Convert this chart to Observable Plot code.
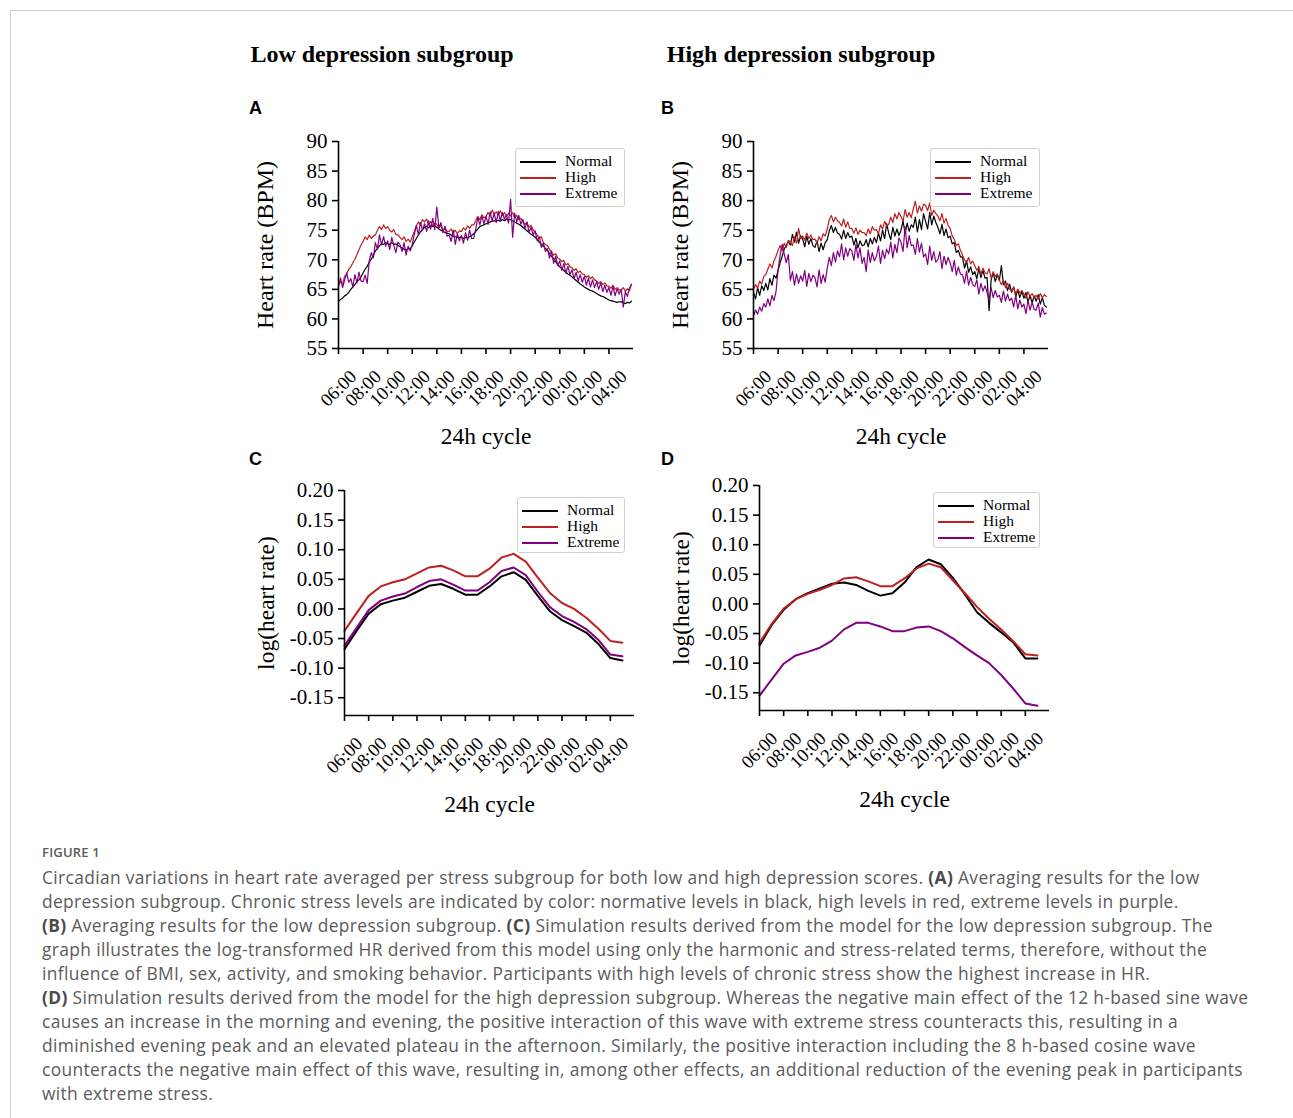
<!DOCTYPE html>
<html><head><meta charset="utf-8">
<script src="https://cdn.jsdelivr.net/npm/d3@7"></script>
<script src="https://cdn.jsdelivr.net/npm/@observablehq/plot@0.6"></script>
<style>
html,body{margin:0;padding:0;background:#fff;}
body{width:1293px;height:1118px;position:relative;overflow:hidden;font-family:"Liberation Serif",serif;}
.abs{position:absolute;}
.bt{left:10px;top:10px;width:1283px;border-top:1.5px solid #cfcfcf;}
.bl{left:10px;top:10px;height:1108px;border-left:1.5px solid #cfcfcf;}
.title{font-family:"Liberation Serif",serif;font-weight:bold;font-size:24px;color:#000;white-space:nowrap;transform:translate(-50%,-50%);}
.letter{font-family:"Liberation Sans",Arial,sans-serif;font-weight:bold;font-size:18px;color:#000;transform:translateY(-50%);}
.legend{border:1px solid #d0d0d0;border-radius:3px;background:rgba(255,255,255,0.85);box-sizing:border-box;}
.legend .row{position:absolute;left:0;height:16px;width:100%;}
.legend .sw{position:absolute;left:4px;top:7px;width:36px;height:0;border-top:2.6px solid #000;}
.legend .lb{position:absolute;left:49px;top:-2px;font-family:"Liberation Serif",serif;font-size:15.5px;line-height:18px;color:#000;white-space:nowrap;}
.cap{left:42px;font-family:"Open Sans","Noto Sans",sans-serif;color:#5b5b5b;white-space:nowrap;}
.caphead{top:843px;font-size:13px;font-weight:600;letter-spacing:0.2px;}
.capbody{top:865px;font-size:17.4px;letter-spacing:0.35px;line-height:24px;}
.capbody b{font-weight:700;color:#4a4a4a;}
svg{position:absolute;overflow:visible;}
</style></head>
<body>
<div class="abs bt"></div><div class="abs bl"></div>
<div id="root"></div>
<script>
// ---------- data ----------
const hourLabels = ["06:00","08:00","10:00","12:00","14:00","16:00","18:00","20:00","22:00","00:00","02:00","04:00"];
const seriesNames = ["Normal","High","Extreme"];
const seriesColors = ["#000000","#be2021","#800080"];
const panelTitles = ["Low depression subgroup","High depression subgroup"];
const panelLetters = ["A","B","C","D"];

// Panel A (low depression), heart rate BPM, 10-min samples from 06:00 (one row of 6 per hour)
const aNormal = [
63.0,63.3,63.5,63.9,64.1,64.5, 65.0,65.4,65.8,66.3,66.6,67.1, 67.8,68.4,68.9,69.6,70.1,70.8, 71.5,71.9,72.4,72.7,72.6,72.9,
72.7,72.6,72.9,72.6,72.7,72.4, 72.2,72.0,71.8,71.6,71.9,71.8, 72.4,73.0,73.6,74.2,74.7,75.1, 75.5,75.7,75.4,75.8,75.6,75.7,
75.5,75.2,75.0,74.8,74.6,74.5, 74.4,74.2,74.0,73.9,73.8,73.8, 73.8,73.6,73.8,73.7,73.9,74.1, 74.4,74.8,75.2,75.6,75.8,75.9,
76.1,76.2,76.4,76.5,76.6,76.5, 76.7,76.5,76.8,76.6,76.9,76.8, 76.8,76.6,76.4,76.2,76.0,75.8, 75.5,75.2,74.9,74.6,74.3,74.1,
73.8,73.4,73.0,72.6,72.3,71.9, 71.6,71.1,70.6,70.2,69.7,69.2, 68.8,68.5,68.2,67.9,67.6,67.4, 67.1,66.8,66.5,66.2,65.9,65.7,
65.4,65.2,65.0,64.8,64.7,64.5, 64.3,64.1,63.9,63.8,63.6,63.4, 63.2,63.1,63.0,62.9,62.8,62.9, 62.9,62.7,62.6,62.8,62.7,63.0];
const aHigh = [
65.8,66.3,65.9,67.2,67.6,68.4, 68.8,69.5,70.1,70.9,71.7,72.5, 73.1,73.9,73.4,74.2,73.6,74.0, 74.2,75.0,75.6,75.1,75.9,75.3,
75.6,75.0,74.7,75.1,74.3,74.2, 73.8,73.4,73.9,73.1,73.5,73.0, 73.9,74.8,75.7,76.4,75.9,76.8, 76.4,76.9,75.9,76.5,75.7,76.2,
76.0,75.4,75.8,74.9,75.3,74.8, 74.8,75.2,74.5,75.0,74.4,74.9, 74.8,75.4,75.0,75.7,75.3,75.9, 75.9,76.6,77.3,76.8,77.6,77.1,
77.3,78.0,77.4,78.4,77.7,78.1, 77.6,78.3,77.5,78.0,77.3,77.9, 77.4,78.0,77.1,77.5,76.8,77.0, 76.5,76.0,76.3,75.5,75.8,75.1,
74.6,74.2,73.6,73.9,72.9,72.6, 72.4,71.8,71.2,70.8,71.0,70.3, 70.1,69.7,69.9,69.1,69.4,68.8, 68.6,68.2,68.5,67.8,68.1,67.6,
67.5,67.0,67.3,66.8,67.1,66.6, 66.4,66.0,66.3,65.8,66.1,65.6, 65.5,65.2,65.7,65.0,65.3,64.9, 64.9,65.3,64.7,65.1,64.8,65.9];
const aExtreme = [
65.5,66.9,65.3,66.6,67.8,66.2, 66.8,65.4,67.5,66.1,67.9,66.4, 66.3,67.4,66.0,69.8,71.2,70.3, 72.9,71.8,74.2,72.5,73.9,72.3,
73.2,71.7,73.8,72.4,71.2,73.0, 72.6,71.4,72.9,70.8,72.3,71.5, 72.6,74.3,75.8,74.2,76.3,75.0, 76.1,74.8,76.6,75.2,77.0,75.1,
78.9,75.4,76.3,74.6,75.7,74.0, 74.2,73.1,75.0,72.6,74.4,73.2, 74.1,72.8,74.6,73.3,75.0,73.6, 73.6,75.2,77.2,75.9,77.4,76.1,
77.3,76.0,78.1,76.5,77.9,76.3, 78.2,76.6,78.0,76.9,77.6,76.2, 80.2,73.8,77.9,76.4,77.5,76.0, 76.8,75.3,76.4,74.6,75.5,74.2,
74.9,73.2,73.9,72.1,72.9,71.4, 71.9,70.3,71.5,69.4,70.6,69.0, 69.8,68.2,69.4,67.7,68.9,67.5, 68.3,66.8,67.9,66.4,67.5,66.2,
67.2,65.7,66.9,65.4,66.6,65.3, 66.3,65.0,66.1,64.6,65.7,64.5, 65.3,64.0,65.5,63.9,65.1,64.2, 65.0,62.0,64.6,63.8,65.2,65.8];

// Panel B (high depression)
const bNormal = [
64.5,63.4,65.3,64.0,65.6,64.8, 66.0,64.9,66.8,65.7,67.4,66.9, 68.2,69.5,70.6,71.8,72.4,73.1, 72.5,74.3,73.0,74.7,72.8,74.1,
73.5,72.2,74.0,72.6,73.6,72.4, 72.1,73.2,71.4,72.8,71.7,72.9, 73.4,74.9,75.8,74.6,75.5,74.5, 74.3,73.5,75.0,73.6,74.6,73.8,
74.0,72.5,73.6,72.0,73.2,72.4, 72.5,73.4,72.2,73.6,72.7,73.8, 72.9,74.5,73.2,75.0,73.6,76.1, 74.5,73.4,75.5,74.0,75.2,74.1,
75.0,76.6,74.4,76.2,74.8,75.9, 75.5,77.2,74.7,76.8,75.1,77.8, 76.5,75.2,78.0,75.9,77.4,76.3, 75.5,74.4,76.0,74.1,75.2,73.7,
74.0,72.7,72.9,71.2,71.6,70.5, 70.5,68.6,69.8,67.9,68.8,67.5, 68.0,66.8,68.5,67.0,68.2,66.9, 67.0,61.4,66.6,67.8,66.3,67.5,
66.5,69.0,65.8,66.4,64.8,65.9, 64.5,65.4,63.8,64.9,63.6,64.7, 63.5,64.5,62.8,64.0,62.7,63.9, 63.0,64.1,62.5,63.6,62.3,62.0];
const bHigh = [
65.0,65.8,65.2,66.4,65.9,67.2, 67.5,68.4,69.3,68.6,69.8,70.6, 71.6,72.4,71.5,72.8,72.1,73.3, 73.0,72.4,73.9,72.8,75.3,73.6,
74.0,73.3,74.5,73.6,74.2,73.4, 73.5,72.8,73.9,73.2,74.4,74.0, 75.2,76.8,77.5,76.4,77.2,76.6, 76.3,75.7,76.9,75.5,76.4,75.3,
75.3,74.5,75.4,74.3,75.0,74.6, 74.6,74.1,75.2,74.4,75.6,75.0, 75.1,74.4,75.9,75.2,76.5,75.7, 76.0,77.2,76.3,77.8,76.9,78.0,
77.3,76.5,78.5,77.2,78.0,77.1, 78.6,79.9,77.9,79.1,78.2,79.4, 79.2,78.3,79.6,77.5,78.4,77.8, 77.4,76.6,77.8,76.2,77.0,75.8,
75.3,74.0,73.5,72.4,72.7,71.6, 70.8,70.0,69.6,70.4,69.3,69.8, 69.0,68.2,68.9,67.5,68.6,67.8, 67.6,68.5,66.9,68.0,67.2,67.6,
66.6,65.8,66.5,65.3,66.0,65.1, 64.6,65.3,64.2,65.0,64.4,64.8, 64.2,63.5,64.6,63.8,64.3,63.6, 64.0,63.4,64.3,63.6,64.1,63.8];
const bExtreme = [
60.5,61.5,60.8,62.0,61.3,62.6, 62.0,63.4,62.2,64.0,63.1,64.6, 68.3,70.8,72.6,71.0,69.5,70.9, 66.5,68.0,65.7,67.6,66.0,67.3,
66.4,68.2,65.5,67.7,66.3,67.4, 67.0,65.4,68.3,66.0,67.5,66.2, 68.6,70.4,69.0,71.2,69.6,71.5, 70.5,72.7,70.0,72.0,70.6,71.9,
71.5,69.9,72.6,70.3,72.0,69.4, 70.4,68.0,71.7,69.5,71.2,69.8, 70.6,72.3,69.4,71.6,70.2,71.8, 71.0,73.0,70.3,72.6,71.2,73.7,
73.0,71.4,75.6,72.0,74.1,72.4, 72.5,70.9,73.6,71.3,72.8,70.5, 71.0,69.2,72.3,69.9,71.4,69.6, 70.0,71.4,68.5,70.6,69.2,70.4,
69.5,68.0,69.9,67.4,68.8,67.6, 67.5,66.0,68.1,65.7,67.0,65.8, 65.5,66.6,64.2,66.0,64.7,65.6, 64.5,63.1,65.3,63.6,64.8,63.7,
64.0,62.8,64.7,63.0,64.2,63.1, 63.5,62.0,64.0,61.7,63.2,62.0, 62.5,60.9,63.2,61.5,62.8,61.6, 61.5,62.7,60.3,61.9,60.8,61.0];

// Panel C (low depression), log(heart rate), hourly from 06:00
const cNormal = [-0.068,-0.037,-0.008,0.008,0.014,0.019,0.029,0.039,0.042,0.034,0.024,0.024,0.038,0.055,0.062,0.049,0.022,-0.004,-0.019,-0.029,-0.040,-0.059,-0.083,-0.087];
const cHigh = [-0.037,-0.007,0.022,0.038,0.045,0.050,0.060,0.070,0.073,0.065,0.055,0.055,0.068,0.087,0.093,0.080,0.053,0.027,0.010,0.000,-0.015,-0.033,-0.054,-0.057];
const cExtreme = [-0.062,-0.032,-0.002,0.014,0.021,0.026,0.037,0.047,0.050,0.041,0.031,0.031,0.045,0.064,0.070,0.057,0.029,0.003,-0.012,-0.022,-0.034,-0.052,-0.077,-0.080];

// Panel D (high depression)
const dNormal = [-0.070,-0.036,-0.010,0.008,0.018,0.026,0.034,0.036,0.032,0.022,0.014,0.018,0.036,0.062,0.075,0.067,0.044,0.016,-0.014,-0.032,-0.048,-0.065,-0.092,-0.092];
const dHigh = [-0.066,-0.034,-0.008,0.008,0.017,0.024,0.032,0.043,0.045,0.038,0.030,0.030,0.043,0.060,0.068,0.062,0.040,0.018,-0.005,-0.025,-0.043,-0.063,-0.085,-0.087];
const dExtreme = [-0.155,-0.128,-0.101,-0.087,-0.081,-0.074,-0.062,-0.043,-0.032,-0.032,-0.038,-0.046,-0.046,-0.040,-0.038,-0.046,-0.058,-0.073,-0.087,-0.100,-0.120,-0.143,-0.168,-0.172];

const hrTicks = [55,60,65,70,75,80,85,90];
const logTicks = [-0.15,-0.10,-0.05,0.00,0.05,0.10,0.15,0.20];
const xTicks = [0,2,4,6,8,10,12,14,16,18,20,22];

// ---------- helpers ----------
function rowsOf(arrays, step) {
  const out = [];
  arrays.forEach((arr, s) => arr.forEach((v, i) => out.push({t: i * step, v, series: seriesNames[s]})));
  return out;
}

function panel(o) {
  const svg = Plot.plot({
    width: o.width, height: o.height,
    marginLeft: o.ml, marginRight: o.mr, marginTop: o.mt, marginBottom: o.mb,
    style: {fontFamily: '"Liberation Serif", serif', fontSize: "21px", color: "#000", background: "transparent", overflow: "visible"},
    x: {domain: [0, 24]},
    y: {domain: o.yDomain},
    color: {domain: seriesNames, range: seriesColors},
    marks: [
      Plot.line(o.rows, {x: "t", y: "v", z: "series", stroke: "series", strokeWidth: o.sw, strokeLinejoin: "round"}),
      Plot.ruleX([0], {stroke: "#000", strokeWidth: 1.6}),
      Plot.ruleY([o.yDomain[0]], {stroke: "#000", strokeWidth: 1.6}),
      Plot.axisY({ticks: o.yTicks, tickFormat: o.yFmt, tickSize: 6, tickPadding: 5, strokeWidth: 1.6, fontSize: 21, label: null}),
      Plot.axisX({ticks: xTicks, tickSize: 6, tickFormat: () => "", strokeWidth: 1.6, label: null}),
      Plot.text(xTicks, {x: d => d, text: d => hourLabels[d / 2], frameAnchor: "bottom", dy: 40, rotate: -45, textAnchor: "middle", lineAnchor: "middle", fontSize: 18.5}),
      Plot.text([o.yLabel], {frameAnchor: "left", dx: o.ylx, rotate: -90, textAnchor: "middle", lineAnchor: "middle", fontSize: o.ylfs}),
      Plot.text(["24h cycle"], {frameAnchor: "bottom", dy: o.xly, textAnchor: "middle", lineAnchor: "middle", fontSize: 23.5})
    ]
  });
  svg.style.left = o.left + "px";
  svg.style.top = o.top + "px";
  return svg;
}

function legend(left, top, w, h) {
  const d = document.createElement("div");
  d.className = "abs legend";
  Object.assign(d.style, {left: left + "px", top: top + "px", width: w + "px", height: h + "px"});
  seriesNames.forEach((n, i) => {
    const r = document.createElement("div");
    r.className = "row";
    r.style.top = (5 + i * 16) + "px";
    r.innerHTML = `<div class="sw" style="border-top-color:${seriesColors[i]}"></div><div class="lb">${n}</div>`;
    d.appendChild(r);
  });
  return d;
}

function label(cls, text, left, top) {
  const d = document.createElement("div");
  d.className = "abs " + cls;
  d.textContent = text;
  d.style.left = left + "px";
  d.style.top = top + "px";
  return d;
}

const root = document.getElementById("root");
const fmt2 = d => (Math.abs(d) < 1e-9 ? "0.00" : d.toFixed(2));

root.appendChild(panel({rows: rowsOf([aNormal, aHigh, aExtreme], 1 / 6), left: 240, top: 120, width: 410, height: 340, ml: 98, mr: 17, mt: 21, mb: 112, yDomain: [55, 90], yTicks: hrTicks, yFmt: d => d, yLabel: "Heart rate (BPM)", ylx: -73, ylfs: 24, xly: 88, sw: 1.2}));
root.appendChild(panel({rows: rowsOf([bNormal, bHigh, bExtreme], 1 / 6), left: 655, top: 120, width: 410, height: 340, ml: 98, mr: 17, mt: 21, mb: 112, yDomain: [55, 90], yTicks: hrTicks, yFmt: d => d, yLabel: "Heart rate (BPM)", ylx: -73, ylfs: 24, xly: 88, sw: 1.2}));
root.appendChild(panel({rows: rowsOf([cNormal, cHigh, cExtreme], 1), left: 240, top: 470, width: 410, height: 360, ml: 104, mr: 16, mt: 20, mb: 115, yDomain: [-0.18, 0.20], yTicks: logTicks, yFmt: fmt2, yLabel: "log(heart rate)", ylx: -78, ylfs: 23.5, xly: 89, sw: 2}));
root.appendChild(panel({rows: rowsOf([dNormal, dHigh, dExtreme], 1), left: 655, top: 465, width: 410, height: 360, ml: 104, mr: 16, mt: 20, mb: 115, yDomain: [-0.18, 0.20], yTicks: logTicks, yFmt: fmt2, yLabel: "log(heart rate)", ylx: -78, ylfs: 23.5, xly: 89, sw: 2}));

root.appendChild(legend(515, 148, 110, 59));
root.appendChild(legend(930, 148, 110, 59));
root.appendChild(legend(517, 497, 108, 56));
root.appendChild(legend(933, 492, 107, 56));

root.appendChild(label("title", panelTitles[0], 382, 54));
root.appendChild(label("title", panelTitles[1], 801, 54));
root.appendChild(label("letter", panelLetters[0], 249, 108));
root.appendChild(label("letter", panelLetters[1], 661, 108));
root.appendChild(label("letter", panelLetters[2], 249, 459));
root.appendChild(label("letter", panelLetters[3], 661, 459));

root.appendChild(label("cap caphead", "FIGURE 1", 42, 843));
const body = document.createElement("div");
body.className = "abs cap capbody";
body.innerHTML = [
  "Circadian variations in heart rate averaged per stress subgroup for both low and high depression scores. <b>(A)</b> Averaging results for the low",
  "depression subgroup. Chronic stress levels are indicated by color: normative levels in black, high levels in red, extreme levels in purple.",
  "<b>(B)</b> Averaging results for the low depression subgroup. <b>(C)</b> Simulation results derived from the model for the low depression subgroup. The",
  "graph illustrates the log-transformed HR derived from this model using only the harmonic and stress-related terms, therefore, without the",
  "influence of BMI, sex, activity, and smoking behavior. Participants with high levels of chronic stress show the highest increase in HR.",
  "<b>(D)</b> Simulation results derived from the model for the high depression subgroup. Whereas the negative main effect of the 12 h-based sine wave",
  "causes an increase in the morning and evening, the positive interaction of this wave with extreme stress counteracts this, resulting in a",
  "diminished evening peak and an elevated plateau in the afternoon. Similarly, the positive interaction including the 8 h-based cosine wave",
  "counteracts the negative main effect of this wave, resulting in, among other effects, an additional reduction of the evening peak in participants",
  "with extreme stress."
].join("<br>");
root.appendChild(body);
</script>
</body></html>
